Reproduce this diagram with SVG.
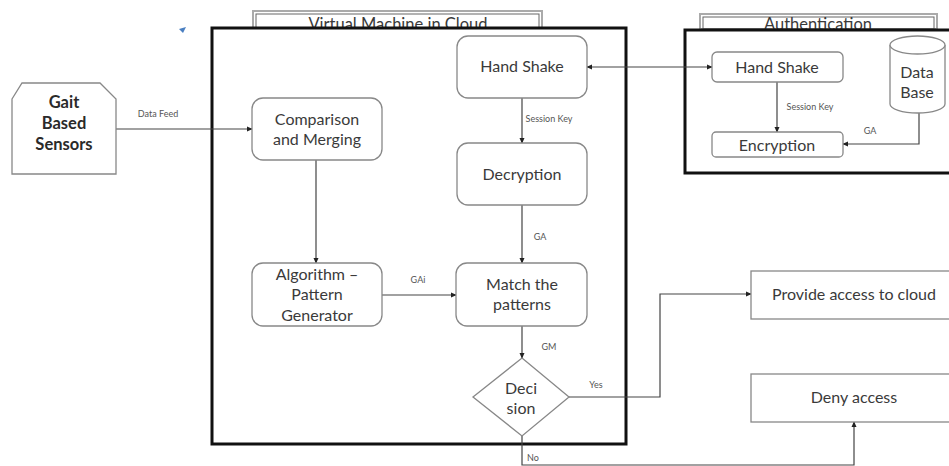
<svg xmlns="http://www.w3.org/2000/svg" width="949" height="466" viewBox="0 0 949 466">
  <defs>
    <marker id="arr" viewBox="0 0 8 8" refX="7" refY="4" markerWidth="6" markerHeight="6" orient="auto-start-reverse" markerUnits="userSpaceOnUse">
      <path d="M0,0.5 L8,4 L0,7.5 Z" fill="#222"/>
    </marker>
    <clipPath id="vmTabClip"><rect x="250" y="8" width="296" height="20"/></clipPath>
    <clipPath id="authTabClip"><rect x="697" y="10" width="243" height="20"/></clipPath>
  </defs>
  <style>
    text { font-family: "Lato", "Liberation Sans", sans-serif; fill: #3a3a3a; text-anchor: middle; }
    .box { fill: #fff; stroke: #888; stroke-width: 1.3; }
    .frame { fill: none; stroke: #111; stroke-width: 3; }
    .tab { fill: #fff; stroke: #aaa; stroke-width: 2; }
    .tabIn { fill: none; stroke: #666; stroke-width: 1; }
    .lbl { font-size: 16px; }
    .tabText { font-size: 16.5px; }
    .small { font-size: 9px; fill: #555; }
    .bold { font-weight: bold; font-size: 16.5px; fill: #2a2a2a; }
    .wire { fill: none; stroke: #444; stroke-width: 1.2; }
  </style>
  <rect width="949" height="466" fill="#fff"/>

  <!-- stray cursor mark -->
  <path d="M179,29 L186,27 L183,33 Z" fill="#4a7fc1"/>

  <!-- Virtual machine frame and title tab -->
  <g id="vm-frame">
    <rect class="tab" x="253" y="11" width="289" height="17"/>
    <rect class="tabIn" x="256" y="14" width="283" height="14"/>
    <text class="tabText" x="398" y="30" clip-path="url(#vmTabClip)">Virtual Machine in Cloud</text>
    <rect class="frame" x="212" y="28" width="414" height="416"/>
  </g>

  <!-- Authentication frame and title tab -->
  <g id="auth-frame">
    <rect class="tab" x="700" y="14" width="237" height="15"/>
    <rect class="tabIn" x="703" y="17" width="231" height="12"/>
    <text class="tabText" x="818" y="30" clip-path="url(#authTabClip)">Authentication</text>
    <rect class="frame" x="685" y="30" width="270" height="143"/>
  </g>

  <!-- Connectors -->
  <g id="connectors">
    <line class="wire" x1="116" y1="129" x2="252" y2="129" marker-end="url(#arr)"/>
    <text class="small" x="158" y="117">Data Feed</text>

    <line class="wire" x1="316" y1="160" x2="316" y2="263" marker-end="url(#arr)"/>

    <line class="wire" x1="522" y1="98" x2="522" y2="143" marker-end="url(#arr)"/>
    <text class="small" x="549" y="122">Session Key</text>

    <line class="wire" x1="522" y1="205" x2="522" y2="263" marker-end="url(#arr)"/>
    <text class="small" x="540" y="240">GA</text>

    <line class="wire" x1="382" y1="295" x2="456" y2="295" marker-end="url(#arr)"/>
    <text class="small" x="418" y="283">GAi</text>

    <line class="wire" x1="522" y1="326" x2="522" y2="358" marker-end="url(#arr)"/>
    <text class="small" x="549" y="350">GM</text>

    <line class="wire" x1="587" y1="67" x2="712" y2="67" marker-start="url(#arr)" marker-end="url(#arr)"/>

    <line class="wire" x1="777" y1="82" x2="777" y2="132" marker-end="url(#arr)"/>
    <text class="small" x="810" y="110">Session Key</text>

    <polyline class="wire" points="919,113 919,144 843,144" marker-end="url(#arr)"/>
    <text class="small" x="870" y="134">GA</text>

    <polyline class="wire" points="569,397 660,397 660,294 751,294" marker-end="url(#arr)"/>
    <text class="small" x="596" y="388">Yes</text>

    <polyline class="wire" points="522,436 522,465 854,465 854,422" marker-end="url(#arr)"/>
    <text class="small" x="533" y="461">No</text>
  </g>

  <!-- Nodes -->
  <g id="gait-sensors">
    <path class="box" d="M12,99 L22,83 L100,83 L116,99 L116,174 L12,174 Z"/>
    <text class="bold" x="64" y="108">Gait</text>
    <text class="bold" x="64" y="129">Based</text>
    <text class="bold" x="64" y="150">Sensors</text>
  </g>

  <g id="comparison-merging">
    <rect class="box" x="252" y="98" width="130" height="62" rx="11"/>
    <text class="lbl" x="317" y="125">Comparison</text>
    <text class="lbl" x="317" y="145">and Merging</text>
  </g>

  <g id="pattern-generator">
    <rect class="box" x="252" y="263" width="130" height="63" rx="11"/>
    <text class="lbl" x="317" y="280">Algorithm –</text>
    <text class="lbl" x="317" y="300">Pattern</text>
    <text class="lbl" x="317" y="321">Generator</text>
  </g>

  <g id="vm-handshake">
    <rect class="box" x="457" y="36" width="130" height="62" rx="11"/>
    <text class="lbl" x="522" y="72">Hand Shake</text>
  </g>

  <g id="decryption">
    <rect class="box" x="457" y="143" width="130" height="62" rx="11"/>
    <text class="lbl" x="522" y="180">Decryption</text>
  </g>

  <g id="match-patterns">
    <rect class="box" x="456" y="263" width="131" height="63" rx="11"/>
    <text class="lbl" x="522" y="290">Match the</text>
    <text class="lbl" x="522" y="310">patterns</text>
  </g>

  <g id="decision">
    <path class="box" d="M522,358 L569,397 L522,436 L473,397 Z"/>
    <text class="lbl" x="521" y="394">Deci</text>
    <text class="lbl" x="521" y="414">sion</text>
  </g>

  <g id="auth-handshake">
    <rect class="box" x="712" y="52" width="131" height="30" rx="5"/>
    <text class="lbl" x="777" y="73">Hand Shake</text>
  </g>

  <g id="encryption">
    <rect class="box" x="712" y="132" width="131" height="25" rx="4"/>
    <text class="lbl" x="777" y="151">Encryption</text>
  </g>

  <g id="database">
    <path class="box" d="M890,45 L890,104 A27.5,9 0 0 0 945,104 L945,45 A27.5,9 0 0 0 890,45 Z"/>
    <path class="box" d="M890,45 A27.5,9 0 0 0 945,45" fill="none"/>
    <text class="lbl" x="917" y="78">Data</text>
    <text class="lbl" x="917" y="98">Base</text>
  </g>

  <g id="provide-access">
    <rect class="box" x="751" y="271" width="210" height="48"/>
    <text class="lbl" x="854" y="300">Provide access to cloud</text>
  </g>

  <g id="deny-access">
    <rect class="box" x="751" y="374" width="210" height="48"/>
    <text class="lbl" x="854" y="403">Deny access</text>
  </g>
</svg>
